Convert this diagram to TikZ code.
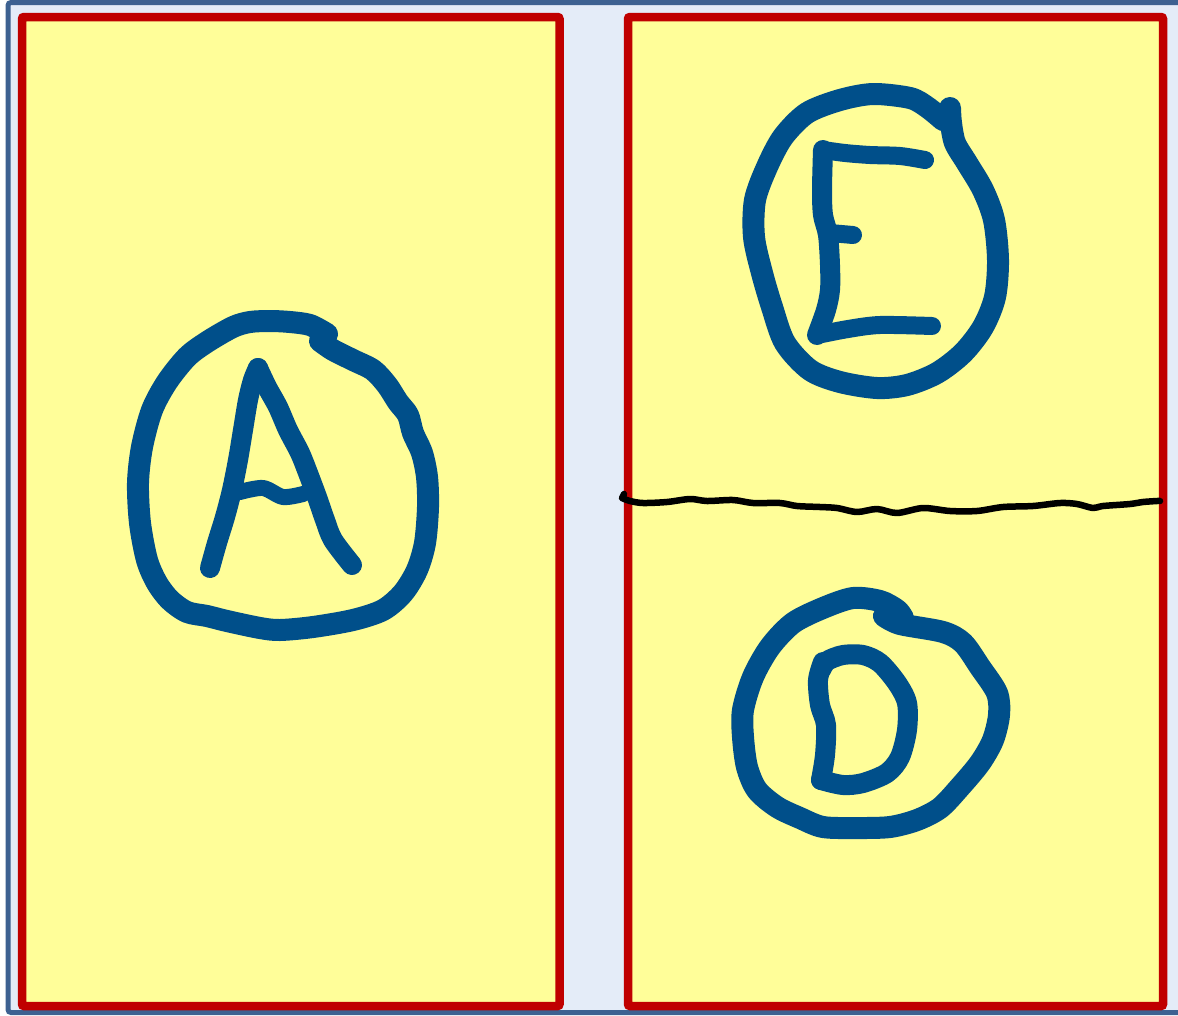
\documentclass[tikz,border=0pt]{standalone}
\definecolor{framecol}{HTML}{3D6191}
\definecolor{bgcol}{HTML}{E4ECF8}
\definecolor{notecol}{HTML}{FFFE99}
\definecolor{redcol}{HTML}{C00000}
\definecolor{inkcol}{HTML}{004F8A}
\begin{document}
\begin{tikzpicture}[x=1pt,y=-1pt,
  note/.style={draw=redcol,fill=notecol,line width=8.5pt,rounded corners=2pt},
  ink/.style={draw=inkcol,line width=22pt,line cap=round,line join=round},
  letterink/.style={draw=inkcol,line width=20pt,line cap=round,line join=round},
  thinink/.style={draw=inkcol,line width=16pt,line cap=round,line join=round},
  pen/.style={draw=black,line width=6.5pt,line cap=round,line join=round}]
\useasboundingbox (0,0) rectangle (1178,1015);
\clip (0,0) rectangle (1178,1015);
\fill[white] (0,0) rectangle (1178,1015);
\draw[draw=framecol,fill=bgcol,line width=5pt,rounded corners=3pt] (8,2.5) rectangle (1190,1012.5);
% notes
\draw[note] (22,17) rectangle (559.5,1006);
\draw[note] (628,17) rectangle (1163,1006);
% divider line
\draw[pen] (624,494) -- (622,498) plot[smooth] coordinates {(622,498) (630,501) (643,503) (667,502) (690,499) (707,501) (733,500) (753,503) (780,503) (797,506) (820,507) (837,508) (857,512) (877,509) (897,513) (923,508) (950,511) (977,511) (1003,507) (1033,506) (1060,503) (1077,504) (1093,508) (1103,506) (1130,504) (1143,502) (1157,501) (1160,501)};
% circle A
\draw[ink] plot[smooth] coordinates {(327,334) (310,325) (290,322) (270,321) (250,322) (233,327) (207,342) (187,357) (167,382) (152,410) (142,447) (138,483) (140,523) (147,560) (157,583) (170,600) (187,612) (207,616) (227,621) (260,628) (280,630) (313,627) (353,620) (383,610) (403,593) (417,570) (425,543) (428,507) (427,477) (422,453) (413,433) (408,415) (398,402) (387,385) (373,370) (353,360) (333,350) (320,341)};
% letter A
\draw[letterink] plot[smooth] coordinates {(210,568) (217,543) (225,517) (232,490) (238,460) (243,430) (248,400) (253,380) (258,368)};
\draw[letterink] plot[smooth] coordinates {(258,368) (267,387) (278,407) (288,430) (300,453) (308,473) (317,497) (325,520) (333,540) (352,565)};
\draw[thinink] plot[smooth] coordinates {(240,492) (263,488) (283,497) (303,494)};
% circle E
\draw[ink] plot[smooth] coordinates {(943,120) (927,107) (910,98) (873,94) (840,100) (807,113) (783,137) (767,167) (755,200) (754,237) (762,273) (772,307) (785,343) (810,370) (840,382) (877,388) (907,385) (937,373) (963,353) (983,327) (995,297) (998,260) (994,220) (983,190) (967,163) (955,143) (951,123) (950,108)};
% letter E
\draw[letterink] plot[smooth] coordinates {(823,150) (822,190) (823,215) (828,235) (830,265) (830,290) (826,310) (817,335)};
\draw[thinink,line width=18pt] plot[smooth] coordinates {(823,150) (845,153) (870,155) (900,156) (925,160)};
\draw[thinink,line width=18pt] plot[smooth] coordinates {(830,233) (853,235)};
\draw[thinink,line width=18pt] plot[smooth] coordinates {(817,335) (848,329) (880,325) (932,326)};
% circle D
\draw[ink] plot[smooth] coordinates {(884,616) (900,624) (943,632) (963,643) (980,667) (997,693) (999,715) (993,740) (980,763) (960,787) (940,808) (917,820) (890,827) (857,828) (823,827) (800,818) (777,807) (757,790) (747,767) (743,737) (743,710) (753,677) (770,647) (793,623) (823,608) (853,598) (880,601) (897,610) (903,618)};
% letter D
\draw[letterink] plot[smooth] coordinates {(823,662) (818,680) (820,705) (826,725) (825,755) (821,780)};
\draw[letterink] plot[smooth] coordinates {(821,780) (843,785) (863,783) (887,773) (900,757) (907,730) (907,703) (897,683) (880,663) (863,655) (843,655) (827,661) (821,670)};
\end{tikzpicture}
\end{document}
